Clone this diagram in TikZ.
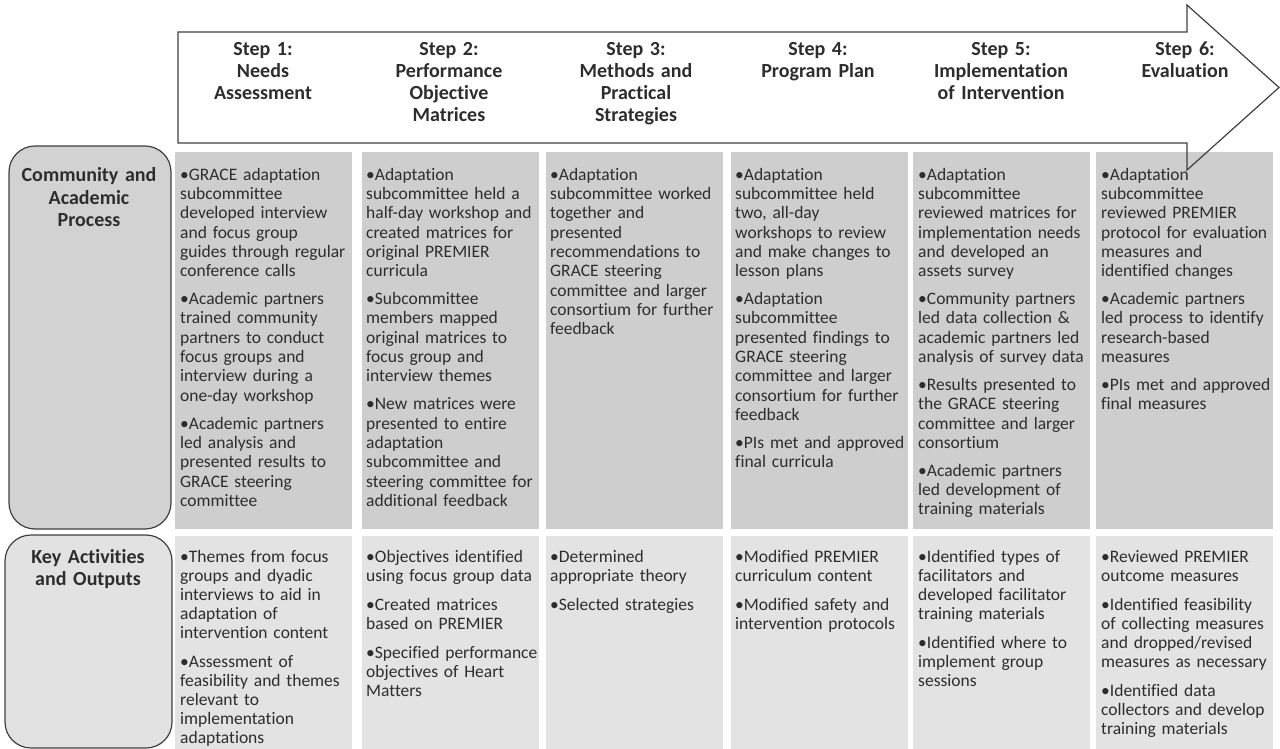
\documentclass[tikz,border=0pt]{standalone}
\usepackage{fontspec}
\setmainfont{Carlito}[Ligatures=NoCommon]
\definecolor{topfill}{RGB}{206,206,206}
\definecolor{botfill}{RGB}{227,227,227}
\definecolor{lblfill}{RGB}{210,210,210}
\definecolor{lblfillb}{RGB}{226,226,226}
\definecolor{edge}{RGB}{64,64,64}
\definecolor{txt}{RGB}{45,45,45}
\begin{document}
\begin{tikzpicture}[x=1pt,y=-1pt,
  topbox/.style={fill=topfill,draw=none,anchor=north west,inner sep=0pt,minimum width=177pt,minimum height=377pt},
  botbox/.style={fill=botfill,draw=none,anchor=north west,inner sep=0pt,minimum width=177pt,minimum height=214pt},
  body/.style={anchor=base west,inner sep=0pt,text width=185pt,align=left,text=txt,font=\fontsize{17.5}{19.35}\selectfont},
  bodyb/.style={body,font=\fontsize{17.5}{19}\selectfont},
  head/.style={anchor=base,inner sep=0pt,text width=180pt,align=center,text=txt,font=\bfseries\fontsize{20}{22}\selectfont},
  rowlabel/.style={draw=edge,line width=1.2pt,rounded corners=26pt},
  lbltext/.style={anchor=base,inner sep=0pt,text width=165pt,align=center,text=txt,font=\bfseries\fontsize{20}{22.5}\selectfont},
  arrowline/.style={draw=edge,line width=1.2pt,line join=miter},
]
\path[use as bounding box] (0,0) rectangle (1280,749);

% row label boxes
\draw[rowlabel,fill=lblfill] (9,146) rectangle (171,529);
\draw[rowlabel,fill=lblfillb] (5,535) rectangle (172,748);
\node[lbltext] (lab1) at (89,182) {Community and\\Academic\\Process};
\node[lbltext] (lab2) at (88,563) {Key Activities\\and Outputs};

% column boxes
\node[topbox] (t1) at (175,152) {};
\node[topbox] (t2) at (362,152) {};
\node[topbox] (t3) at (546,152) {};
\node[topbox] (t4) at (731,152) {};
\node[topbox] (t5) at (913,152) {};
\node[topbox] (t6) at (1096,152) {};
\node[botbox] (b1) at (175,536) {};
\node[botbox] (b2) at (362,536) {};
\node[botbox] (b3) at (546,536) {};
\node[botbox] (b4) at (731,536) {};
\node[botbox] (b5) at (913,536) {};
\node[botbox] (b6) at (1096,536) {};

% arrow
\path[arrowline] (178,32) -- (1187,32) -- (1187,5) -- (1279,87.5) -- (1187,170) -- (1187,143) -- (178,143) -- cycle;

% headers
\node[head] (h1) at (263,56) {Step 1:\\Needs\\Assessment};
\node[head] (h2) at (449,56) {Step 2:\\Performance\\Objective\\Matrices};
\node[head] (h3) at (636,56) {Step 3:\\Methods and\\Practical\\Strategies};
\node[head] (h4) at (818,56) {Step 4:\\Program Plan};
\node[head] (h5) at (1001,56) {Step 5:\\Implementation\\of Intervention};
\node[head] (h6) at (1185,56) {Step 6:\\Evaluation};

% top row text
\node[body] (p1) at (180,180) {•GRACE adaptation\\subcommittee\\developed interview\\and focus group\\guides through regular\\conference calls\\[8.4pt]•Academic partners\\trained community\\partners to conduct\\focus groups and\\interview during a\\one-day workshop\\[8.4pt]•Academic partners\\led analysis and\\presented results to\\GRACE steering\\committee};
\node[body] (p2) at (366,180) {•Adaptation\\subcommittee held a\\half-day workshop and\\created matrices for\\original PREMIER\\curricula\\[8.4pt]•Subcommittee\\members mapped\\original matrices to\\focus group and\\interview themes\\[8.4pt]•New matrices were\\presented to entire\\adaptation\\subcommittee and\\steering committee for\\additional feedback};
\node[body] (p3) at (550,180) {•Adaptation\\subcommittee worked\\together and\\presented\\recommendations to\\GRACE steering\\committee and larger\\consortium for further\\feedback};
\node[body] (p4) at (735,180) {•Adaptation\\subcommittee held\\two, all-day\\workshops to review\\and make changes to\\lesson plans\\[8.4pt]•Adaptation\\subcommittee\\presented findings to\\GRACE steering\\committee and larger\\consortium for further\\feedback\\[8.4pt]•PIs met and approved\\final curricula};
\node[body] (p5) at (918,180) {•Adaptation\\subcommittee\\reviewed matrices for\\implementation needs\\and developed an\\assets survey\\[8.4pt]•Community partners\\led data collection \&\\academic partners led\\analysis of survey data\\[8.4pt]•Results presented to\\the GRACE steering\\committee and larger\\consortium\\[8.4pt]•Academic partners\\led development of\\training materials};
\node[body] (p6) at (1101,180) {•Adaptation\\subcommittee\\reviewed PREMIER\\protocol for evaluation\\measures and\\identified changes\\[8.4pt]•Academic partners\\led process to identify\\research-based\\measures\\[8.4pt]•PIs met and approved\\final measures};

% bottom row text
\node[bodyb] (q1) at (180,562) {•Themes from focus\\groups and dyadic\\interviews to aid in\\adaptation of\\intervention content\\[10pt]•Assessment of\\feasibility and themes\\relevant to\\implementation\\adaptations};
\node[bodyb] (q2) at (366,562) {•Objectives identified\\using focus group data\\[10pt]•Created matrices\\based on PREMIER\\[10pt]•Specified performance\\objectives of Heart\\Matters};
\node[bodyb] (q3) at (550,562) {•Determined\\appropriate theory\\[10pt]•Selected strategies};
\node[bodyb] (q4) at (735,562) {•Modified PREMIER\\curriculum content\\[10pt]•Modified safety and\\intervention protocols};
\node[bodyb] (q5) at (918,562) {•Identified types of\\facilitators and\\developed facilitator\\training materials\\[10pt]•Identified where to\\implement group\\sessions};
\node[bodyb] (q6) at (1101,562) {•Reviewed PREMIER\\outcome measures\\[10pt]•Identified feasibility\\of collecting measures\\and dropped/revised\\measures as necessary\\[10pt]•Identified data\\collectors and develop\\training materials};
\end{tikzpicture}
\end{document}
